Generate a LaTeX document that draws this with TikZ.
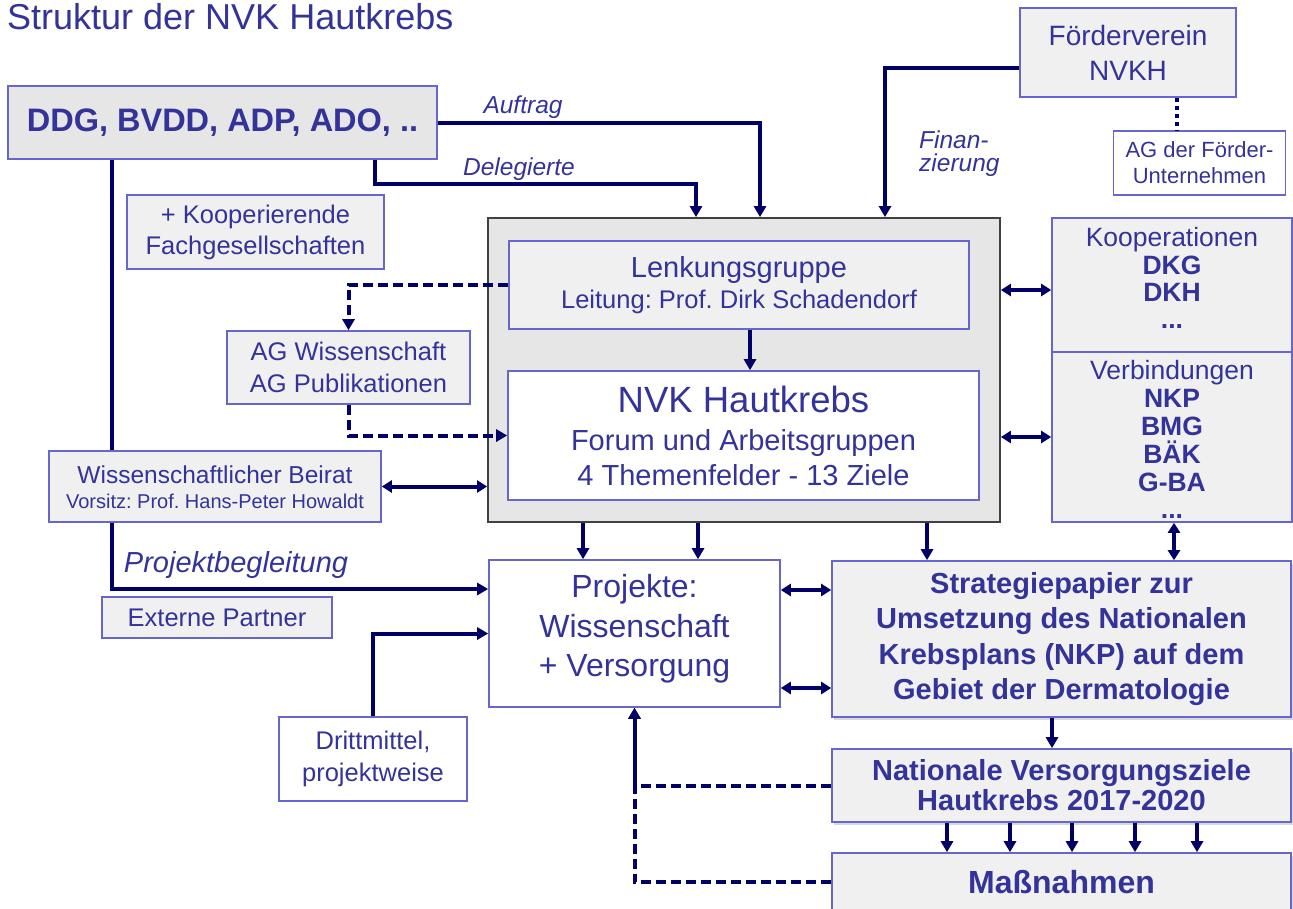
\documentclass[tikz,border=0pt]{standalone}
\usepackage{fontspec}
\setmainfont{Liberation Sans}
\usetikzlibrary{arrows.meta,backgrounds,shadows}
\definecolor{txt}{HTML}{333399}
\definecolor{ln}{HTML}{000066}
\definecolor{bd}{HTML}{6666CC}
\definecolor{fa}{HTML}{F0F0F0}
\definecolor{fb}{HTML}{E6E6E6}
\newcommand{\fsz}[2]{\fontsize{#1}{#2}\selectfont}
\frenchspacing
\begin{document}
\begin{tikzpicture}[x=1pt,y=-1pt,
  box/.style={draw=bd, line width=1.6pt, fill=fa, text=txt, align=center, inner sep=0pt},
  shd/.style={drop shadow={shadow xshift=1.5pt, shadow yshift=-3pt, opacity=0.25, fill=black!60}},
  txtn/.style={text=txt, anchor=base, inner sep=0pt},
  lbl/.style={text=txt, font=\itshape\fsz{24.5}{28}, anchor=base, inner sep=0pt},
  conn/.style={draw=ln, line width=4pt, -{Triangle[length=11pt,width=12pt]}},
  dbl/.style={draw=ln, line width=4pt, {Triangle[length=10pt,width=12pt]}-{Triangle[length=10pt,width=12pt]}},
  dashc/.style={draw=ln, line width=4pt, dash pattern=on 10pt off 5pt, -{Triangle[length=11pt,width=12pt]}},
  dotl/.style={draw=ln, line width=4pt, dash pattern=on 4pt off 4pt}
]
\useasboundingbox (0,0) rectangle (1293,908);

\node[anchor=base west, text=txt, font=\fsz{36}{40}, inner sep=0pt] (title) at (7,29) {Struktur der NVK Hautkrebs};

\node[box, fill=fb, minimum width=429, minimum height=73, font=\bfseries\fsz{32.5}{38}] (ddg) at (222.5,122.5) {DDG, BVDD, ADP, ADO, ..};
\node[box, minimum width=216, minimum height=89, font=\fsz{28}{35}] (fv) at (1128,52.5) {Förderverein\\NVKH};
\node[box, fill=white, minimum width=172, minimum height=64, font=\fsz{22}{26}] (agf) at (1199.5,163) {AG der Förder-\\Unternehmen};
\node[box, minimum width=257, minimum height=74, font=\fsz{25.5}{31}] (koopf) at (255.5,232) {+ Kooperierende\\Fachgesellschaften};

\node[draw=black!75, line width=1.8pt, fill=fb, minimum width=512, minimum height=304, inner sep=0pt] (outer) at (744,370) {};
\node[box, minimum width=460, minimum height=88] (lenk) at (739,285) {};
\node[txtn, font=\fsz{29}{30}] (lenk1) at (739,277) {Lenkungsgruppe};
\node[txtn, font=\fsz{25.5}{30}] (lenk2) at (739,308) {Leitung: Prof. Dirk Schadendorf};
\node[box, fill=white, minimum width=471, minimum height=129] (nvk) at (743.5,435.5) {};
\node[txtn, font=\fsz{36.5}{40}] (nvk1) at (743.5,412.5) {NVK Hautkrebs};
\node[txtn, font=\fsz{29}{32}] (nvk2) at (743.5,450) {Forum und Arbeitsgruppen};
\node[txtn, font=\fsz{29}{32}] (nvk3) at (743.5,485) {4 Themenfelder - 13 Ziele};

\node[box, minimum width=243, minimum height=73, font=\fsz{25.5}{32}] (agw) at (348.5,367.5) {AG Wissenschaft\\AG Publikationen};
\node[box, minimum width=332, minimum height=71] (beirat) at (215,486.5) {};
\node[txtn, font=\fsz{24.5}{28}] (beirat1) at (215,483) {Wissenschaftlicher Beirat};
\node[txtn, font=\fsz{20}{24}] (beirat2) at (215,508) {Vorsitz: Prof. Hans-Peter Howaldt};

\node[box, minimum width=240, minimum height=134] (koop) at (1172,285) {};
\node[box, minimum width=240, minimum height=170] (verb) at (1172,437) {};
\node[txtn, font=\fsz{26.5}{28}] (k1) at (1172,246) {Kooperationen};
\node[txtn, font=\bfseries\fsz{26.5}{28}] (k2) at (1172,274) {DKG};
\node[txtn, font=\bfseries\fsz{26.5}{28}] (k3) at (1172,301.5) {DKH};
\node[txtn, font=\bfseries\fsz{26.5}{28}] (k4) at (1172,328) {...};
\node[txtn, font=\fsz{26.5}{28}] (v1) at (1172,379) {Verbindungen};
\node[txtn, font=\bfseries\fsz{26.5}{28}] (v2) at (1172,407) {NKP};
\node[txtn, font=\bfseries\fsz{26.5}{28}] (v3) at (1172,435) {BMG};
\node[txtn, font=\bfseries\fsz{26.5}{28}] (v4) at (1172,463) {BÄK};
\node[txtn, font=\bfseries\fsz{26.5}{28}] (v5) at (1172,491) {G-BA};
\node[txtn, font=\bfseries\fsz{26.5}{28}] (v6) at (1172,518) {...};

\node[box, fill=white, minimum width=291, minimum height=147] (proj) at (634.5,633.5) {};
\node[txtn, font=\fsz{32}{39.5}, align=center, anchor=center] (projt) at (634.5,629) {Projekte:\\Wissenschaft\\+ Versorgung};
\node[box, shd, minimum width=459, minimum height=156, font=\bfseries\fsz{29}{35.5}] (strat) at (1061.5,639) {Strategiepapier zur\\Umsetzung des Nationalen\\Krebsplans (NKP) auf dem\\Gebiet der Dermatologie};
\node[box, shd, minimum width=459, minimum height=73, font=\bfseries\fsz{29}{30}] (nat) at (1061.5,785.5) {Nationale Versorgungsziele\\Hautkrebs 2017-2020};
\node[box, shd, minimum width=459, minimum height=58, font=\bfseries\fsz{32}{36}] (mass) at (1061.5,882) {Maßnahmen};
\node[box, minimum width=230, minimum height=41, font=\fsz{25.5}{30}] (ext) at (217,617.5) {Externe Partner};
\node[box, fill=white, minimum width=188, minimum height=84, font=\fsz{25.5}{32}] (dm) at (373,759) {Drittmittel,\\projektweise};

\node[lbl] (auftrag) at (523,113) {Auftrag};
\node[lbl] (deleg) at (519,175) {Delegierte};
\node[lbl, anchor=base west] (finan1) at (919,148) {Finan-};
\node[lbl, anchor=base west] (finan2) at (919,171) {zierung};
\node[lbl, font=\itshape\fsz{29}{30}] (projb) at (236,572) {Projektbegleitung};

\begin{scope}[on background layer]
\draw[conn] ([xshift=-110.5]ddg.south) |- ([yshift=44.5]proj.west);
\end{scope}

\draw[conn] (ddg.east) -| ([xshift=16]outer.north);
\draw[conn] ([xshift=152.5]ddg.south) -- ++(0,24) -| ([xshift=-48]outer.north);
\draw[conn] ([yshift=-15.5]fv.west) -| ([xshift=141]outer.north);
\draw[dotl] ([xshift=49]fv.south) -- ([xshift=49]fv.south |- agf.north);
\draw[dashc] (lenk.west) -| (agw.north);
\draw[dashc] (agw.south) |- (nvk.west);
\draw[dbl] (beirat.east) -- (beirat.east -| outer.west);
\draw[conn] ([xshift=11]lenk.south) -- ([xshift=11]lenk.south |- nvk.north);
\draw[dbl] ([yshift=-5]koop.west -| outer.east) -- ([yshift=-5]koop.west);
\draw[dbl] (verb.west -| outer.east) -- (verb.west);
\draw[conn] ([xshift=-51.5]proj.north |- outer.south) -- ([xshift=-51.5]proj.north);
\draw[conn] ([xshift=63.5]proj.north |- outer.south) -- ([xshift=63.5]proj.north);
\draw[conn] ([xshift=-134.5]strat.north |- outer.south) -- ([xshift=-134.5]strat.north);
\draw[dbl] ([xshift=2]verb.south) -- ([xshift=2]verb.south |- strat.north);
\draw[dbl] ([yshift=43.5]proj.east) -- ([yshift=43.5]proj.east -| strat.west);
\draw[dbl] ([yshift=-54.5]proj.east) -- ([yshift=-54.5]proj.east -| strat.west);
\draw[conn] ([xshift=-9.5]strat.south) -- ([xshift=-9.5]strat.south |- nat.north);
\foreach \dx in {-114.5,-51.5,10.5,73.5,135.5}
  \draw[conn] ([xshift=\dx]nat.south) -- ([xshift=\dx]nat.south |- mass.north);
\draw[dashc] (nat.west) -| (proj.south);
\draw[dashc] (mass.west) -| (proj.south);
\draw[conn] (dm.north) |- (proj.west);
\end{tikzpicture}
\end{document}
